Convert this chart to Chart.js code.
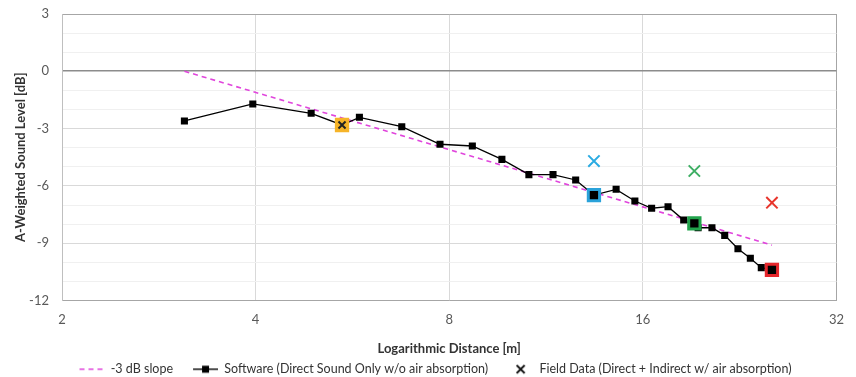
<!DOCTYPE html>
<html><head><meta charset="utf-8">
<script src="https://cdn.jsdelivr.net/npm/chart.js@4.4.1/dist/chart.umd.min.js"></script>
<style>html,body{margin:0;padding:0;background:#fff}#wrap{width:856px;height:377px}</style>
</head><body><div id="wrap"><canvas id="c" width="856" height="377"></canvas></div>
<script>
// ---- data ----
const softwareDistances = [3.10, 3.96, 4.88, 5.45, 5.80, 6.75, 7.74, 8.69, 9.66, 10.64, 11.60, 12.58, 13.43, 14.54, 15.55, 16.51, 17.51, 18.52, 19.50, 20.49, 21.45, 22.49, 23.51, 24.45, 25.40];
const softwareLevels    = [-2.60, -1.71, -2.20, -2.81, -2.41, -2.90, -3.82, -3.91, -4.61, -5.41, -5.41, -5.69, -6.48, -6.18, -6.79, -7.17, -7.09, -7.79, -8.19, -8.19, -8.59, -9.29, -9.79, -10.28, -10.40];
const fieldDistances = [5.45, 13.43, 19.24, 25.40];
const fieldLevels    = [-2.81, -4.70, -5.22, -6.88];
const fieldColors    = ['#222222', '#2AABE2', '#3DAE63', '#E8352C'];
const highlightDistances = [5.45, 13.43, 19.24, 25.40];
const highlightLevels    = [-2.81, -6.48, -7.96, -10.40];
const highlightColors    = ['#F6B428', '#2AA2DA', '#22A34C', '#E5262B'];
const slopeDistances = [3.10, 25.40];
const slopeLevels    = [0, -9.10];
const xTickValues = [2, 4, 8, 16, 32];
const yTickStep = 3;
const legendLabels = ['-3 dB slope', 'Software (Direct Sound Only w/o air absorption)', 'Field Data (Direct + Indirect w/ air absorption)'];

const FONT = 'Lato, "Open Sans", "Liberation Sans", sans-serif';
const MAGENTA = '#E045DC';

function pts(xs, ys) { return xs.map((x, i) => ({x: x, y: ys[i]})); }

function makeIcon(kind) {
  const W = 40, H = 14;
  const c = document.createElement('canvas');
  c.width = W; c.height = H;
  const g = c.getContext('2d');
  const cy = 7;
  if (kind === 'dash') {
    g.strokeStyle = MAGENTA; g.lineWidth = 1.6;
    g.setLineDash([5, 4]);
    g.beginPath(); g.moveTo(15, cy); g.lineTo(40, cy); g.stroke();
  } else if (kind === 'line') {
    g.strokeStyle = '#000'; g.lineWidth = 1.4;
    g.beginPath(); g.moveTo(15, cy); g.lineTo(40, cy); g.stroke();
    g.fillStyle = '#000'; g.fillRect(27.5 - 3.5, cy - 3.5, 7, 7);
  } else {
    g.strokeStyle = '#111'; g.lineWidth = 1.8;
    const cx = 27.5, r = 4;
    g.beginPath(); g.moveTo(cx - r, cy - r); g.lineTo(cx + r, cy + r);
    g.moveTo(cx + r, cy - r); g.lineTo(cx - r, cy + r); g.stroke();
  }
  return c;
}
const icons = [makeIcon('dash'), makeIcon('line'), makeIcon('x')];

new Chart(document.getElementById('c'), {
  type: 'scatter',
  data: {
    datasets: [
      {
        label: legendLabels[2],
        data: pts(fieldDistances, fieldLevels),
        pointStyle: 'crossRot',
        pointRadius: [5, 8, 8, 8],
        pointBorderWidth: 2,
        borderColor: fieldColors,
        backgroundColor: fieldColors,
        pointBorderColor: fieldColors,
        showLine: false,
        order: 0
      },
      {
        label: 'highlight',
        data: pts(highlightDistances, highlightLevels),
        pointStyle: 'rect',
        pointRadius: 8,
        pointBorderWidth: 3,
        pointBackgroundColor: [highlightColors[0], '#000', '#000', '#000'],
        pointBorderColor: highlightColors,
        showLine: false,
        order: 1
      },
      {
        label: legendLabels[1],
        data: pts(softwareDistances, softwareLevels),
        showLine: true,
        borderColor: '#000',
        borderWidth: 1.3,
        pointStyle: 'rect',
        pointRadius: 5,
        pointBackgroundColor: '#000',
        pointBorderColor: '#000',
        pointBorderWidth: 0,
        order: 2
      },
      {
        label: legendLabels[0],
        data: pts(slopeDistances, slopeLevels),
        showLine: true,
        borderColor: MAGENTA,
        borderWidth: 1.6,
        borderDash: [5, 4],
        pointRadius: 0,
        order: 3
      }
    ]
  },
  options: {
    responsive: false,
    devicePixelRatio: 1,
    animation: false,
    layout: { padding: { left: 18, right: 18, top: 14, bottom: -8.5 } },
    plugins: {
      tooltip: { enabled: false },
      legend: {
        position: 'bottom',
        labels: {
          usePointStyle: true,
          pointStyleWidth: 40,
          padding: 5,
          color: '#333',
          font: { family: FONT, size: 12.5 },
          generateLabels: function () {
            return legendLabels.map((t, i) => ({
              text: t, pointStyle: icons[i], fillStyle: '#000', strokeStyle: '#000',
              lineWidth: 0, hidden: false, datasetIndex: [3, 2, 0][i], fontColor: '#333'
            }));
          }
        }
      }
    },
    scales: {
      x: {
        type: 'logarithmic',
        min: xTickValues[0],
        max: xTickValues[xTickValues.length - 1],
        afterBuildTicks: s => { s.ticks = xTickValues.map(v => ({value: v})); },
        afterFit: s => { s.height = 57.5; },
        ticks: {
          callback: v => String(v),
          color: '#595959',
          font: { family: FONT, size: 13 },
          padding: 12,
          maxRotation: 0,
          autoSkip: false
        },
        grid: {
          drawTicks: false,
          color: c => (c.tick && c.tick.value === 32) ? '#a6a6a6' : '#d9d9d9',
          lineWidth: 1
        },
        border: { color: '#a6a6a6', width: 1 },
        title: {
          display: true,
          text: 'Logarithmic Distance [m]',
          color: '#333',
          font: { family: FONT, size: 13, weight: 'bold' },
          padding: { top: 0, bottom: 1 }
        }
      },
      y: {
        min: -12,
        max: 3,
        afterFit: s => { s.width = 44; s.paddingTop = 0; s.paddingBottom = 0; },
        ticks: {
          stepSize: 1,
          autoSkip: false,
          callback: v => (v % yTickStep === 0 ? String(v) : ''),
          color: '#595959',
          font: { family: FONT, size: 13 },
          padding: 13
        },
        grid: {
          drawTicks: false,
          color: c => {
            const v = c.tick ? c.tick.value : null;
            if (v === 0) return '#8c8c8c';
            if (v === 3) return '#a6a6a6';
            if (v % 3 === 0) return '#d9d9d9';
            return '#f0f0f0';
          },
          lineWidth: c => (c.tick && c.tick.value === 0) ? 1.6 : 1
        },
        border: { color: '#bfbfbf', width: 1 },
        title: {
          display: true,
          text: 'A-Weighted Sound Level [dB]',
          color: '#333',
          font: { family: FONT, size: 13, weight: 'bold' },
          padding: { top: -5, bottom: 0 }
        }
      }
    }
  }
});
</script>
</body></html>
